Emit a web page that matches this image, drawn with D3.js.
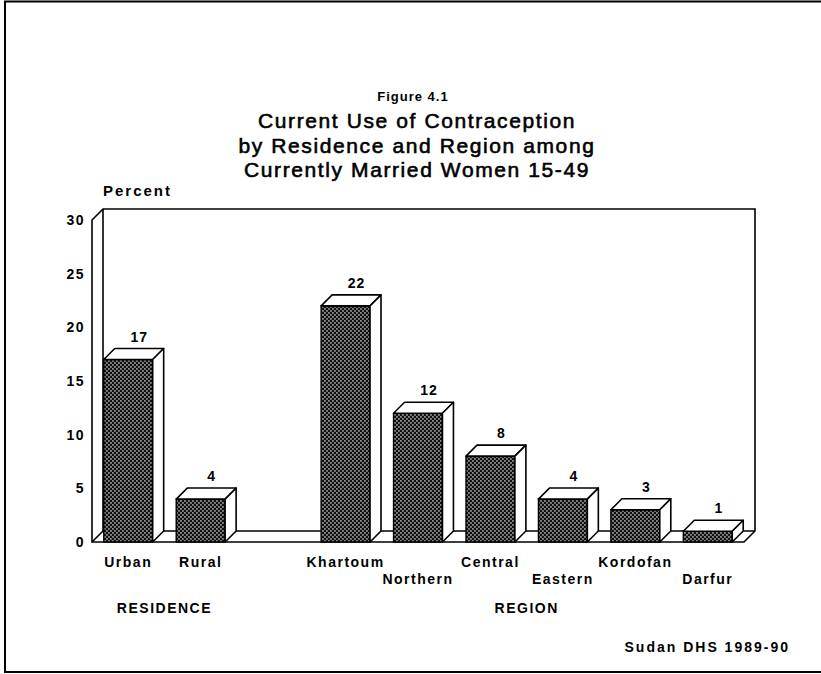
<!DOCTYPE html>
<html>
<head>
<meta charset="utf-8">
<script src="https://d3js.org/d3.v7.min.js"></script>
<style>
  body { margin: 0; background: #fff; }
  svg text { font-family: "Liberation Sans", Arial, Helvetica, sans-serif; fill: #000; }
</style>
</head>
<body>
<svg id="chart" width="821" height="674"></svg>
<script>
// values
var residence = ["Urban", "Rural"];
var residenceValues = [17, 4];
var regions = ["Khartoum", "Northern", "Central", "Eastern", "Kordofan", "Darfur"];
var regionValues = [22, 12, 8, 4, 3, 1];
var yTicks = [0, 5, 10, 15, 20, 25, 30];
var groupLabels = ["RESIDENCE", "REGION"];
var figureLabel = "Figure 4.1";
var titleLines = ["Current Use of Contraception",
                  "by Residence and Region among",
                  "Currently Married Women 15-49"];
var yLabel = "Percent";
var source = "Sudan DHS 1989-90";

var depth = 11;   // 3d offset

var svg = d3.select("#chart");

var translate = function(x, y) {
    return "translate(" + x + "," + y + ")";
};

// bars in one list, an empty slot between the two groups
var bars = residence.map(function(c, i) {
    return { name: c, value: residenceValues[i], group: 0, idx: i };
}).concat(regions.map(function(c, i) {
    return { name: c, value: regionValues[i], group: 1, idx: i };
}));
var domain = residence.concat(["__gap"], regions);

var x = d3.scaleBand()
    .domain(domain)
    .range([92, 744])
    .paddingInner(0.325)
    .paddingOuter(0.1625);

var y = d3.scaleLinear()
    .domain([0, 30])
    .range([542, 220]);

// stipple pattern for the bar fronts
var defs = svg.append("defs");
var pat = defs.append("pattern")
    .attr("id", "dots")
    .attr("patternUnits", "userSpaceOnUse")
    .attr("width", 4)
    .attr("height", 4);
pat.append("rect").attr("width", 4).attr("height", 4).attr("fill", "#111");
pat.append("rect").attr("x", 0.3).attr("y", 0.3).attr("width", 1.3).attr("height", 1.3).attr("fill", "#fff");
pat.append("rect").attr("x", 2.3).attr("y", 2.3).attr("width", 1.3).attr("height", 1.3).attr("fill", "#fff");

// outer frame
svg.append("path")
    .attr("d", "M821,1.5 L5,1.5 L5,672 L821,672")
    .attr("fill", "none")
    .attr("stroke", "#000")
    .attr("stroke-width", 2);

// titles
svg.append("text")
    .attr("x", 413).attr("y", 101)
    .attr("text-anchor", "middle")
    .style("font-size", "13px").style("font-weight", "bold")
    .style("letter-spacing", "1px")
    .text(figureLabel);

svg.selectAll(".title")
    .data(titleLines)
  .enter()
    .append("text")
    .attr("class", "title")
    .attr("x", 417)
    .attr("y", function(d, i) { return 128 + i * 24.5; })
    .attr("text-anchor", "middle")
    .style("font-size", "21px")
    .style("letter-spacing", "1.6px")
    .attr("stroke", "#000")
    .attr("stroke-width", 0.6)
    .text(function(d) { return d; });

svg.append("text")
    .attr("x", 103).attr("y", 196)
    .style("font-size", "15px").style("font-weight", "bold")
    .style("letter-spacing", "2px")
    .text(yLabel);

// 3d box: floor and back wall
var x0 = x.range()[0], x1 = x.range()[1];
var yTop = y(30), yBase = y(0);
var box = svg.append("g")
    .attr("fill", "none")
    .attr("stroke", "#000")
    .attr("stroke-width", 1.6);

box.append("path")
    .attr("d", "M" + x0 + "," + yBase + " L" + x0 + "," + yTop +
               " L" + (x0 + depth) + "," + (yTop - depth) +
               " L" + (x1 + depth) + "," + (yTop - depth) +
               " L" + (x1 + depth) + "," + (yBase - depth) +
               " L" + x1 + "," + yBase + " Z");
box.append("path")
    .attr("d", "M" + (x0 + depth) + "," + (yTop - depth) +
               " L" + (x0 + depth) + "," + (yBase - depth) +
               " L" + (x1 + depth) + "," + (yBase - depth) +
               " M" + (x0 + depth) + "," + (yBase - depth) +
               " L" + x0 + "," + yBase);

// y axis labels
var yAxis = d3.axisLeft(y)
    .tickValues(yTicks)
    .tickSize(0)
    .tickPadding(7);

var axisG = svg.append("g")
    .attr("transform", translate(x0, 0))
    .call(yAxis);
axisG.select(".domain").remove();
axisG.selectAll("text")
    .style("font-family", "'Liberation Sans', Arial, sans-serif")
    .style("font-size", "14px")
    .style("font-weight", "bold")
    .style("letter-spacing", "1.5px");

// bars
var w = x.bandwidth();
var barG = svg.selectAll(".bar")
    .data(bars)
  .enter()
    .append("g")
    .attr("class", "bar");

barG.append("rect")
    .attr("x", function(d) { return x(d.name); })
    .attr("y", function(d) { return y(d.value); })
    .attr("width", w)
    .attr("height", function(d) { return yBase - y(d.value); })
    .attr("fill", "url(#dots)")
    .attr("stroke", "#000")
    .attr("stroke-width", 1.4);

// top face
barG.append("path")
    .attr("d", function(d) {
        var bx = x(d.name), ty = y(d.value);
        return "M" + bx + "," + ty +
               " L" + (bx + depth) + "," + (ty - depth) +
               " L" + (bx + w + depth) + "," + (ty - depth) +
               " L" + (bx + w) + "," + ty + " Z";
    })
    .attr("fill", "#fff")
    .attr("stroke", "#000")
    .attr("stroke-width", 1.6)
    .attr("stroke-linejoin", "round");

// side face
barG.append("path")
    .attr("d", function(d) {
        var bx = x(d.name) + w, ty = y(d.value);
        return "M" + bx + "," + ty +
               " L" + (bx + depth) + "," + (ty - depth) +
               " L" + (bx + depth) + "," + (yBase - depth) +
               " L" + bx + "," + yBase + " Z";
    })
    .attr("fill", "#fff")
    .attr("stroke", "#000")
    .attr("stroke-width", 1.6)
    .attr("stroke-linejoin", "round");

// value labels
barG.append("text")
    .attr("x", function(d) { return x(d.name) + depth + w / 2; })
    .attr("y", function(d) { return y(d.value) - depth - 7; })
    .attr("text-anchor", "middle")
    .style("font-size", "14px").style("font-weight", "bold")
    .style("letter-spacing", "1px")
    .text(function(d) { return d.value; });

// category labels, regions alternate between two rows
barG.append("text")
    .attr("x", function(d) { return x(d.name) + w / 2; })
    .attr("y", function(d) {
        var second = d.group === 1 && d.idx % 2 === 1;
        return second ? 584 : 567;
    })
    .attr("text-anchor", "middle")
    .style("font-size", "14px").style("font-weight", "bold")
    .style("letter-spacing", "1.5px")
    .text(function(d) { return d.name; });

// group labels
var groupCentres = [
    d3.mean(residence, function(c) { return x(c) + w / 2; }),
    d3.mean(regions, function(c) { return x(c) + w / 2; })
];
svg.selectAll(".group")
    .data(groupLabels)
  .enter()
    .append("text")
    .attr("class", "group")
    .attr("x", function(d, i) { return groupCentres[i]; })
    .attr("y", 613)
    .attr("text-anchor", "middle")
    .style("font-size", "14px").style("font-weight", "bold")
    .style("letter-spacing", "1.5px")
    .text(function(d) { return d; });

svg.append("text")
    .attr("x", 790).attr("y", 652)
    .attr("text-anchor", "end")
    .style("font-size", "14px").style("font-weight", "bold")
    .style("letter-spacing", "2px")
    .text(source);
</script>
</body>
</html>
